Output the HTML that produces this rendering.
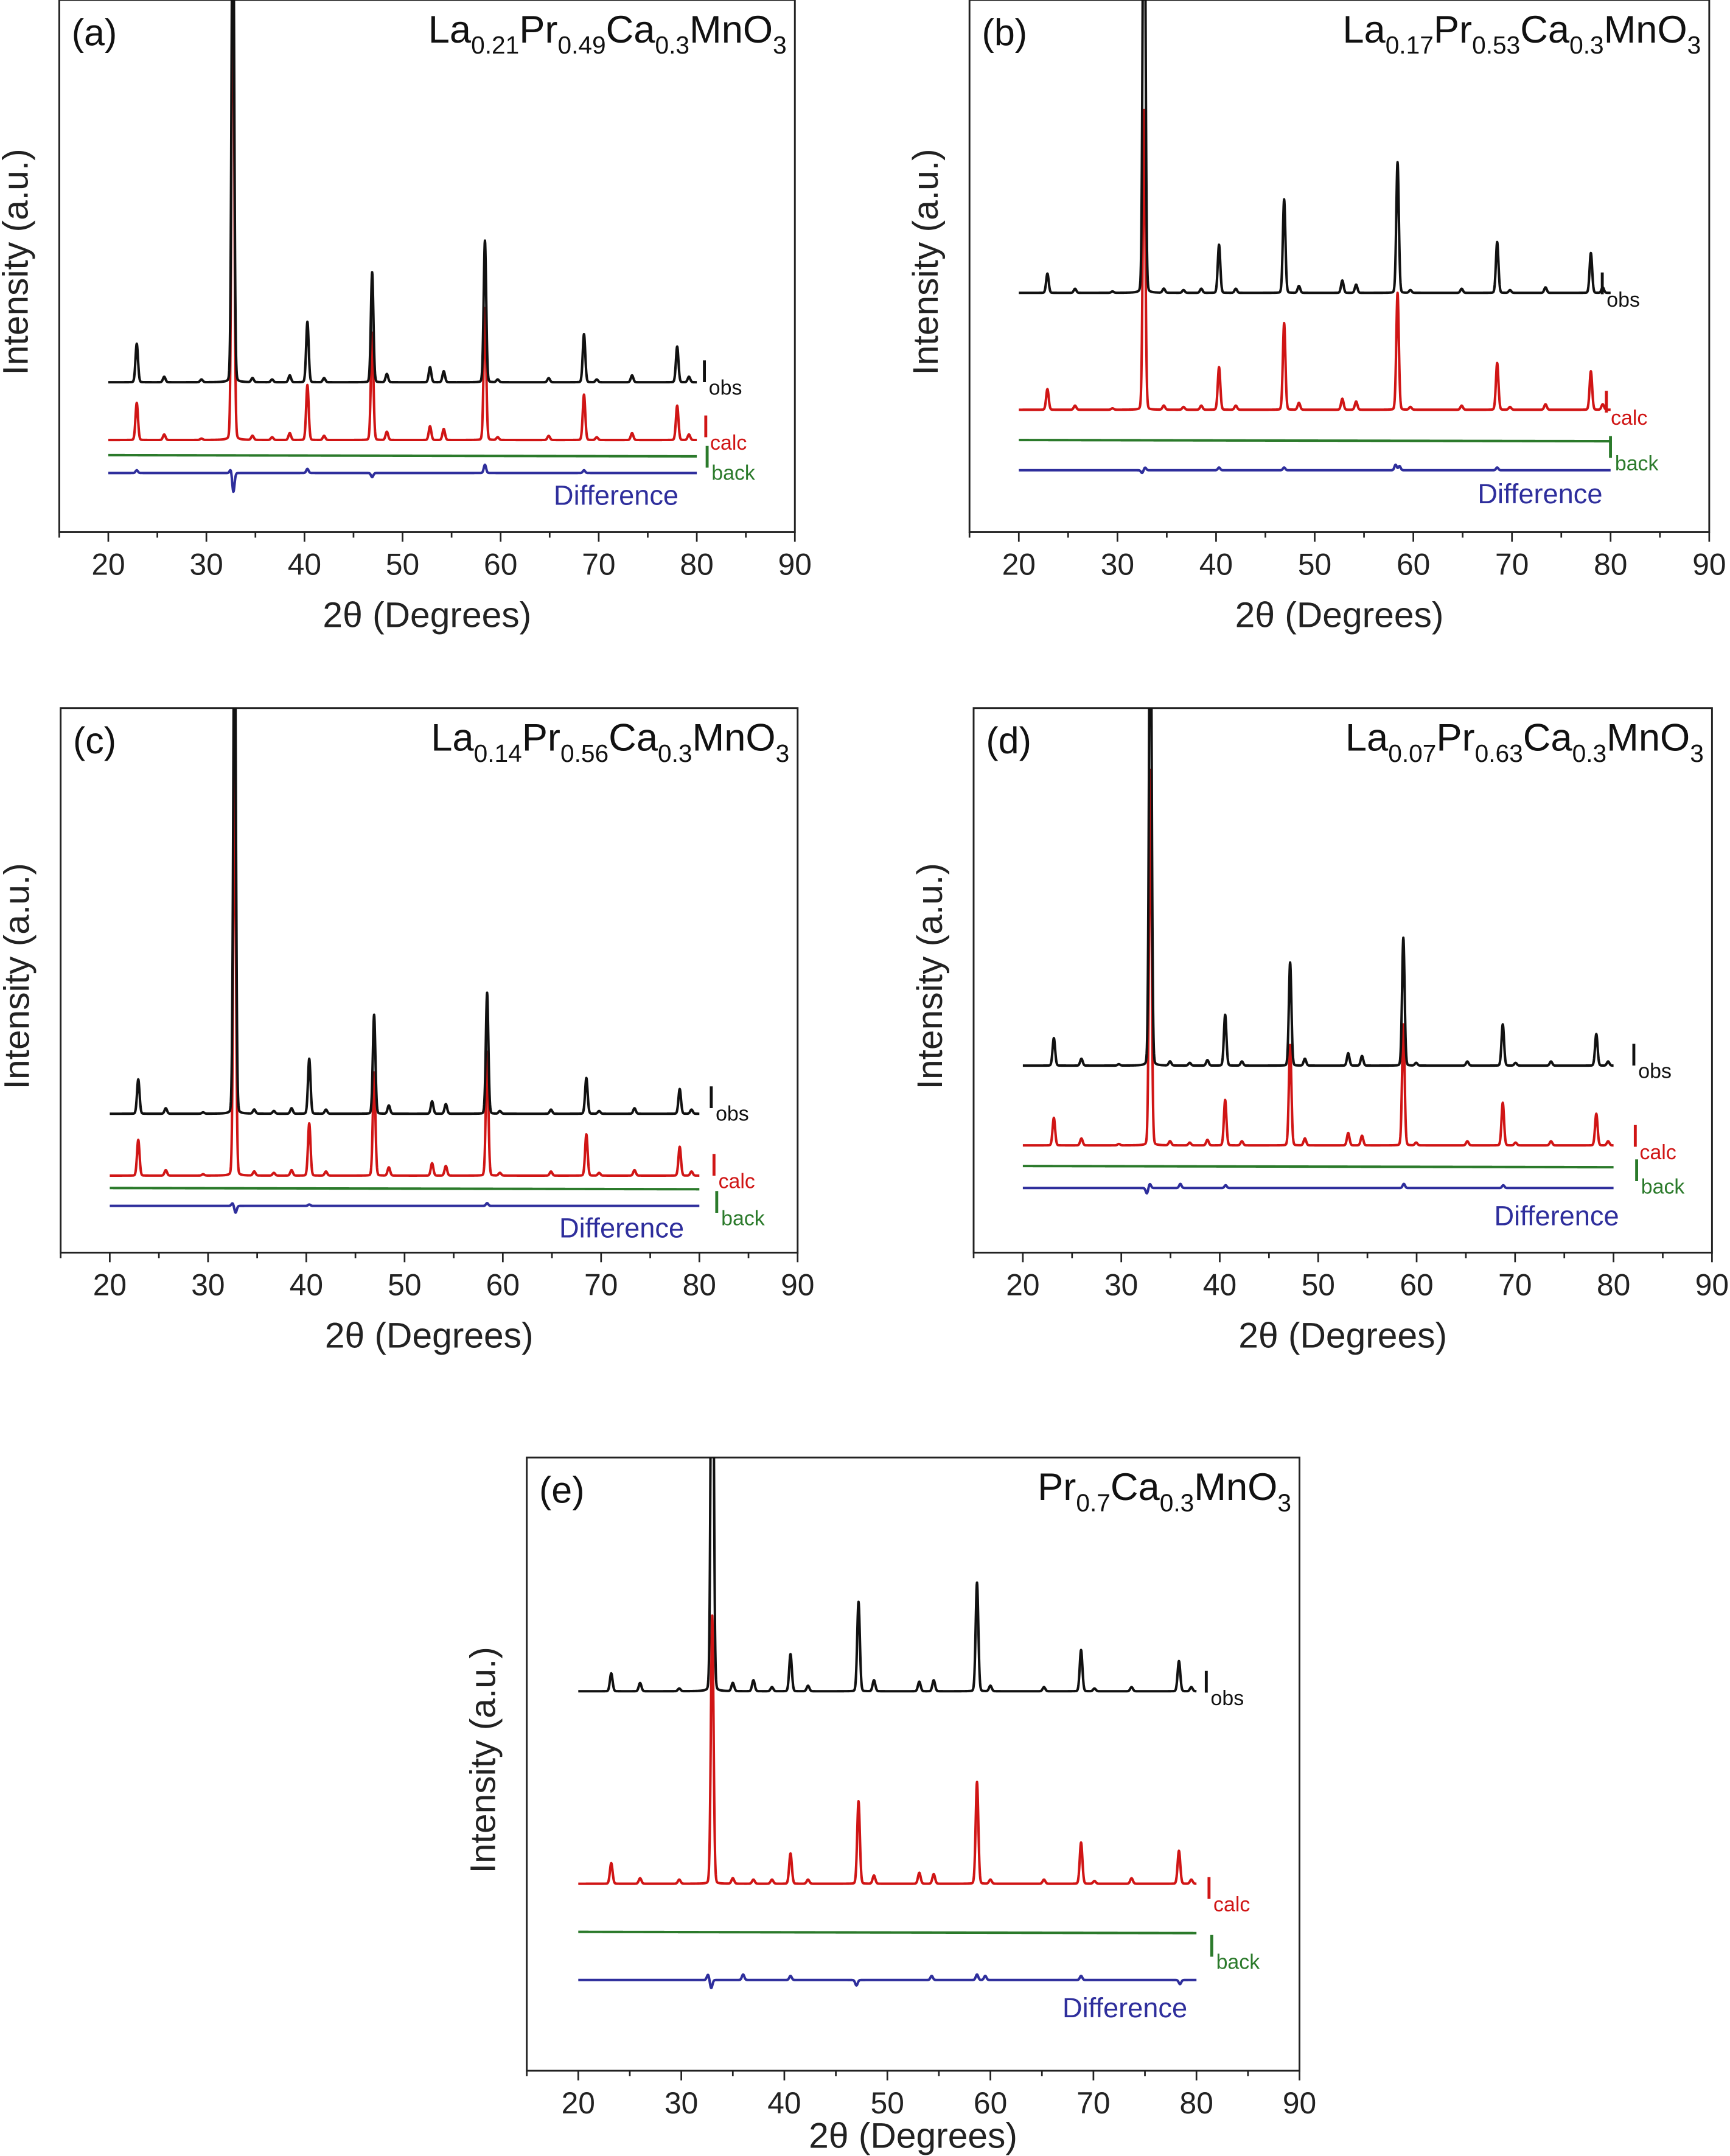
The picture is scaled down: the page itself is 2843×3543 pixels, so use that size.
<!DOCTYPE html>
<html><head><meta charset="utf-8">
<style>
html,body{margin:0;padding:0;background:#fff;}
svg{display:block;font-family:"Liberation Sans",Arial,sans-serif;}
</style></head>
<body>
<svg id="fig" width="2843" height="3543" viewBox="0 0 1258 1568" xmlns="http://www.w3.org/2000/svg">
<rect x="0" y="0" width="1258" height="1568" fill="#fff"/>
</svg>
<script>
// ---- data ----
const peakPos = [22.9,25.7,29.5,32.7,34.7,36.7,38.5,40.3,42.0,46.9,48.4,52.8,54.2,58.4,59.7,64.9,68.5,69.8,73.4,78.0,79.2];
const panelIds = ['a','b','c','d','e'];
const panelShift = [0,0,0,0.25,0.3];
const obsA = [28,4,2,400,3,2,5,44,3,80,6,11,8,103,2,3,35,2,5,26,4];
const calcA = [27,4,1,400,3,2,5,40,3,78,6,10,8,96,2,3,33,2,5,25,4];
const obsB = [14,3,1,400,3,2,3,35,3,68,5,9,6,95,2,3,37,2,4,29,4];
const calcB = [15,3,1,218,3,2,3,31,3,63,5,8,6,85,2,3,34,2,4,28,4];
const obsC = [25,4,1,400,3,2,4,40,3,72,6,9,7,88,2,3,26,2,4,18,3];
const calcC = [26,4,1,307,3,2,4,38,3,75,6,9,7,90,2,3,30,2,4,21,3];
const obsD = [20,5,1,400,3,2,4,37,3,75,5,9,7,93,2,3,30,2,3,23,3];
const calcD = [20,5,1,273,3,2,4,33,3,73,5,9,7,88,2,3,31,2,3,23,3];
const obsE = [13,6,2,400,6,8,3,27,4,65,8,7,8,79,4,3,30,2,3,22,3];
const calcE = [15,4,3,195,4,3,3,22,3,60,6,8,7,74,3,3,30,2,4,24,3];
const obsSets = [obsA,obsB,obsC,obsD,obsE];
const calcSets = [calcA,calcB,calcC,calcD,calcE];
// baselines (a.u. above axis): obs, calc, back, diff
const baseObs = [109,174,101,136,276];
const baseCalc = [67,89,56,78,136];
const baseBack = [56,67,47,63,101];
const baseDiff = [43,45,34,47,66];
const diffA = [[22.9,2],[32.5,3],[32.75,-14],[40.3,3],[46.9,-3],[58.4,6],[68.5,2]];
const diffB = [[32.5,-2],[32.8,2],[40.3,2],[46.9,2],[58.2,4],[58.6,3],[68.5,2]];
const diffC = [[32.5,2],[32.8,-5],[40.3,1],[58.4,2]];
const diffD = [[32.6,-4],[32.9,3],[36.0,3],[40.6,2],[58.7,3],[68.8,2]];
const diffE = [[32.6,4],[32.9,-6],[36.0,4],[40.6,3],[47.0,-4],[54.3,3],[58.7,4],[59.5,3],[68.8,3],[78.4,-3]];
const diffSets = [diffA,diffB,diffC,diffD,diffE];
const xTicks = [20,30,40,50,60,70,80,90];
const formulas = [
 [['La',''],['0.21','s'],['Pr',''],['0.49','s'],['Ca',''],['0.3','s'],['MnO',''],['3','s']],
 [['La',''],['0.17','s'],['Pr',''],['0.53','s'],['Ca',''],['0.3','s'],['MnO',''],['3','s']],
 [['La',''],['0.14','s'],['Pr',''],['0.56','s'],['Ca',''],['0.3','s'],['MnO',''],['3','s']],
 [['La',''],['0.07','s'],['Pr',''],['0.63','s'],['Ca',''],['0.3','s'],['MnO',''],['3','s']],
 [['Pr',''],['0.7','s'],['Ca',''],['0.3','s'],['MnO',''],['3','s']]
];
// ---- layout (figure units) ----
const boxes = [
 {l:43,r:578,t:0,b:387,tt:69},{l:705,r:1243,t:0,b:387,tt:69},
 {l:44,r:580,t:515,b:911,tt:69},{l:708,r:1245,t:515,b:911,tt:69},
 {l:383,r:945,t:1060,b:1506,tt:56}
];
const labelPos = [
 {obs:[509,278],calc:[510,318],back:[511,340],diff:[448,367]},
 {obs:[1162,214],calc:[1165,300],back:[1168,333],diff:[1120,366]},
 {obs:[514,806],calc:[516,855],back:[518,882],diff:[452,900]},
 {obs:[1185,775],calc:[1186,834],back:[1187,859],diff:[1132,891]},
 {obs:[874,1231],calc:[876,1381],back:[878,1423],diff:[818,1467]}
];
const NS='http://www.w3.org/2000/svg';
const svg=document.getElementById('fig');
function mk(tag,attrs,parent){const e=document.createElementNS(NS,tag);for(const k in attrs)e.setAttribute(k,attrs[k]);(parent||svg).appendChild(e);return e;}
function profile(x,list,shift,s){let t=0;for(const [p,h] of list){const d=(x-p-shift)/s;t+=h*(0.93*Math.exp(-0.5*d*d)+0.07/(1+d*d));}return t;}
panelIds.forEach((id,i)=>{
 const B=boxes[i];
 const g=mk('g',{});
 
 
 const xs=v=>B.l+(v-15)/(90-15)*(B.r-B.l);
 const ys=v=>B.b-v;
 const cp=mk('clipPath',{id:'clip'+id},g);
 mk('rect',{x:B.l,y:B.t,width:B.r-B.l,height:B.b-B.t},cp);
 const frame=mk('rect',{x:B.l,y:B.t,width:B.r-B.l,height:B.b-B.t,fill:'none',stroke:'#222','stroke-width':1.3},g);
 
 
 for(let v=15;v<=90;v+=5){
  const major=v%10===0;
  const t=mk('line',{x1:xs(v),x2:xs(v),y1:B.b,y2:B.b+(major?7:4),stroke:'#222','stroke-width':1.2},g);
  
  
 }
 xTicks.forEach(v=>{
  const t=mk('text',{x:xs(v),y:B.b+31,'font-size':22,'text-anchor':'middle',fill:'#222'},g);
  t.textContent=v;
  
  
 });
 const xt=mk('text',{x:(B.l+B.r)/2,y:B.b+B.tt,'font-size':26,'text-anchor':'middle',fill:'#222'},g);
 xt.textContent='2θ (Degrees)';
 
 
 const yc=(B.t+B.b)/2;
 const yt=mk('text',{x:B.l-23,y:yc-3,'font-size':26,'text-anchor':'middle',fill:'#222',transform:`rotate(-90 ${B.l-23} ${yc-3})`},g);
 yt.textContent='Intensity (a.u.)';
 
 
 const pl=mk('text',{x:B.l+9,y:B.t+33,'font-size':27,fill:'#111'},g);
 pl.textContent='('+id+')';
 
 
 const ft=mk('text',{x:B.r-6,y:B.t+31,'font-size':28,'text-anchor':'end',fill:'#111'},g);
 
 
 formulas[i].forEach(([s,k])=>{const ts=mk('tspan',k?{'font-size':18,dy:8}:{dy:ft.childNodes.length?-8:0},ft);ts.textContent=s;});
 // curves
 const sh=panelShift[i];
 const obsList=peakPos.map((p,j)=>[p,obsSets[i][j]]);
 const calcList=peakPos.map((p,j)=>[p,calcSets[i][j]]);
 let dO='',dC='',dB='',dD='';
 for(let k=0;k<=2400;k++){
  const x=20+k*0.025;const X=xs(x).toFixed(2);
  const c=k?'L':'M';
  dO+=c+X+','+ys(baseObs[i]+profile(x,obsList,sh,0.13)).toFixed(2);
  dC+=c+X+','+ys(baseCalc[i]+profile(x,calcList,sh,0.13)).toFixed(2);
  dB+=c+X+','+ys(baseBack[i]-(x-20)*0.015).toFixed(2);
  dD+=c+X+','+ys(baseDiff[i]+profile(x,diffSets[i],0,0.12)).toFixed(2);
 }
 const cg=mk('g',{'clip-path':'url(#clip'+id+')'},g);
 const curves=[[dB,'#2b7a2b','background-curve'],[dD,'#2e2e9c','difference-curve'],[dC,'#d01515','calculated-curve'],[dO,'#111111','observed-curve']];
 curves.forEach(([d,col,nm])=>{
  const p=mk('path',{d:d,fill:'none',stroke:col,'stroke-width':1.8,'stroke-linejoin':'round'},cg);
  
  
 });
 // labels
 const L=labelPos[i];
 [['obs','#111'],['calc','#d01515'],['back','#2b7a2b']].forEach(([k,col])=>{
  const t=mk('text',{x:L[k][0],y:L[k][1],'font-size':23,fill:col},g);
  
  
  const a=mk('tspan',{},t);a.textContent='I';
  const b=mk('tspan',{'font-size':15,dy:9},t);b.textContent=k;
 });
 const dl=mk('text',{x:L.diff[0],y:L.diff[1],'font-size':20,'text-anchor':'middle',fill:'#2e2e9c'},g);
 dl.textContent='Difference';
 
 
});
</script>
</body></html>
